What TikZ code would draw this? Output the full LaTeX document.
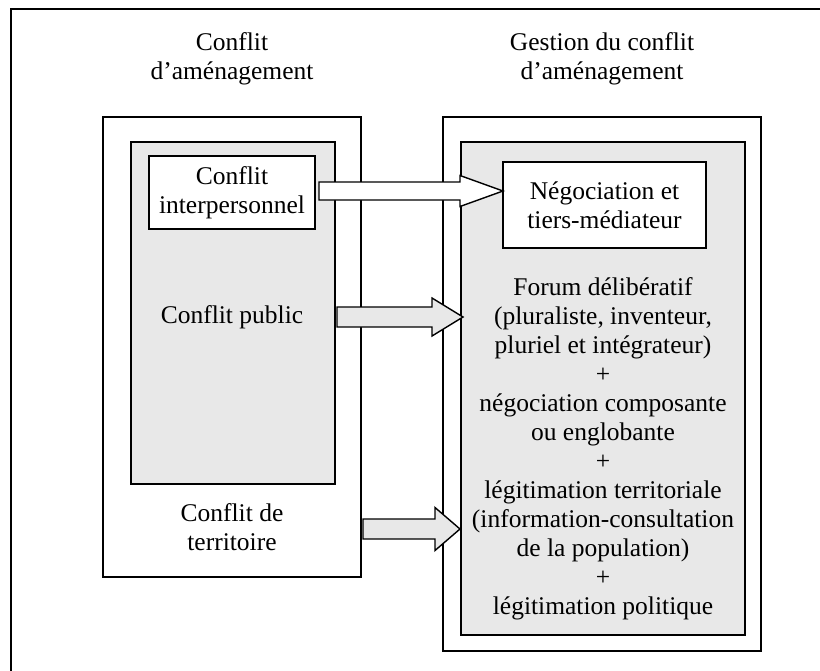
\documentclass[tikz,border=0pt]{standalone}
\usepackage{fontspec}
\setmainfont{Liberation Serif}
\usetikzlibrary{calc}
\definecolor{boxgray}{RGB}{232,232,232}
\tikzset{
  frame/.style={draw=black,line width=1.4pt},
  plain/.style={draw=black,line width=1.4pt,fill=white},
  shaded/.style={draw=black,line width=1.4pt,fill=boxgray},
  txt/.style={align=center,inner sep=0pt,font=\fontsize{25.5}{29}\selectfont},
  barrow/.style={draw=black,line width=1.4pt,line join=miter}
}
% #1 start, #2 tip, #3 half shaft, #4 half head, #5 head length, #6 fill
\newcommand\blockarr[6]{%
  \draw[barrow,fill=#6] let \p1=(#1), \p2=(#2) in
    (\x1,\y1+#3) -- (\x2-#5,\y1+#3) -- (\x2-#5,\y1+#4) -- (\x2,\y2)
    -- (\x2-#5,\y1-#4) -- (\x2-#5,\y1-#3) -- (\x1,\y1-#3) -- cycle;}
\begin{document}
\begin{tikzpicture}[x=1pt,y=-1pt]
\useasboundingbox (0,0) rectangle (820,670);
% outer frame (extends past the right and bottom edges)
\draw[frame] (11,9) rectangle (840,690);
% left column
\node[txt] (ltitle) at (232,59) {Conflit\\d’aménagement};
\path[plain] (103,117) rectangle (361,577);
\path[shaded] (131,142) rectangle (335,484);
\path[plain] (149,156) rectangle (315,229);
\node[txt] (interp) at (232,192.5) {Conflit\\interpersonnel};
\node[txt] (public) at (232,317) {Conflit public};
\node[txt] (territ) at (232,527) {Conflit de\\territoire};
% right column
\node[txt] (rtitle) at (602,59) {Gestion du conflit\\d’aménagement};
\path[plain] (443,117) rectangle (761,651);
\path[shaded] (461,142) rectangle (745,635);
\path[plain] (503,162) rectangle (706,248);
\node[txt] (nego) at (604.5,205) {Négociation et\\tiers-médiateur};
\node[txt] (forum) at (603,449) {Forum délibératif\\(pluraliste, inventeur,\\pluriel et intégrateur)\\+\\négociation composante\\ou englobante\\+\\légitimation territoriale\\(information-consultation\\de la population)\\+\\légitimation politique};
% arrows
\coordinate (a1s) at (319,191);
\coordinate (a1t) at (503,191);
\coordinate (a2s) at (337,317);
\coordinate (a2t) at (463,317);
\coordinate (a3s) at (363,529);
\coordinate (a3t) at (460,529);
\blockarr{a1s}{a1t}{9pt}{15.5pt}{43pt}{white}
\blockarr{a2s}{a2t}{10pt}{19pt}{31pt}{boxgray}
\blockarr{a3s}{a3t}{10pt}{21.5pt}{25pt}{boxgray}
\end{tikzpicture}
\end{document}
